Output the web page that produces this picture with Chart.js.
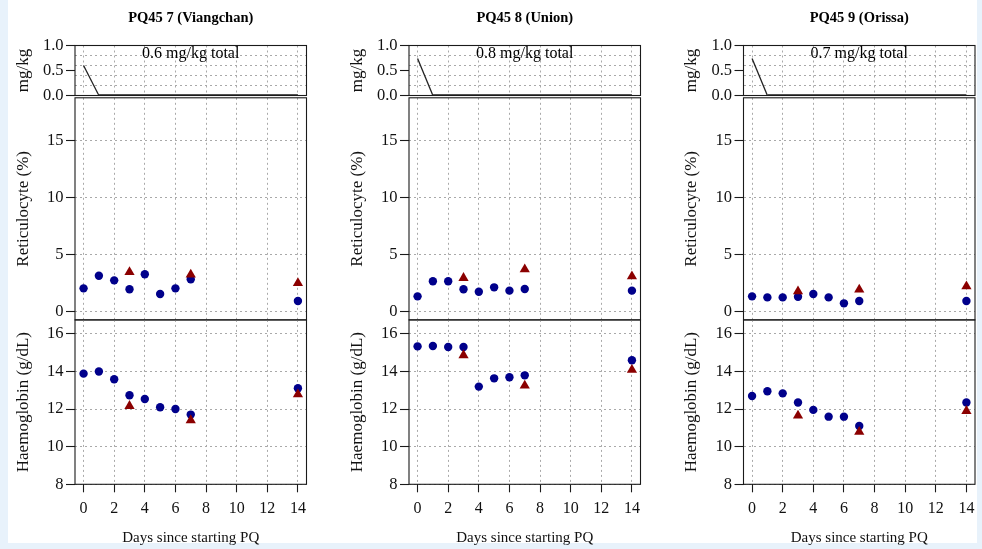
<!DOCTYPE html>
<html>
<head>
<meta charset="utf-8">
<script src="https://cdn.jsdelivr.net/npm/chart.js@4.4.1/dist/chart.umd.min.js"></script>
<style>
html, body { margin: 0; padding: 0; background: #e8f2fb; }
#page { position: relative; width: 982px; height: 549px; overflow: hidden; }
#sheet { position: absolute; left: 8px; top: 0; width: 969px; height: 543px; background: #fff; }
canvas { position: absolute; left: 0; top: 0; }
.lbl { position: absolute; font-family: "Liberation Serif", "Times New Roman", serif; color: #000;
       white-space: nowrap; transform: translate(-50%, -50%); line-height: 1; }
.ttl { font-weight: bold; font-size: 14.5px; }
.note { font-size: 16px; }
</style>
</head>
<body>
<div id="page"><div id="sheet"></div></div>
<script>
// days of measurement
const days = [0, 1, 2, 3, 4, 5, 6, 7, 14];
const triDays = [3, 7, 14];
const doseDays = [0, 1, 2, 3, 4, 5, 6, 7, 8, 9, 10, 11, 12, 13, 14];

// tick positions
const dayTicks = [0, 2, 4, 6, 8, 10, 12, 14];
const doseTicks = [0, 0.2, 0.4, 0.5, 0.6, 0.8, 1.0];
const doseLabelTicks = [0, 0.5, 1.0];
const reticTicks = [0, 5, 10, 15];
const hbTicks = [8, 10, 12, 14, 16];

const titles = ['PQ45 7 (Viangchan)', 'PQ45 8 (Union)', 'PQ45 9 (Orissa)'];
const doseNotes = ['0.6 mg/kg total', '0.8 mg/kg total', '0.7 mg/kg total'];

// mg/kg per day
const dose7 = [0.6, 0, 0, 0, 0, 0, 0, 0, 0, 0, 0, 0, 0, 0, 0];
const dose8 = [0.74, 0, 0, 0, 0, 0, 0, 0, 0, 0, 0, 0, 0, 0, 0];
const dose9 = [0.74, 0, 0, 0, 0, 0, 0, 0, 0, 0, 0, 0, 0, 0, 0];

// reticulocyte (%), circles and triangles
const retic7 = [2.04, 3.15, 2.74, 1.96, 3.27, 1.55, 2.04, 2.83, 0.93];
const retic7Tri = [3.47, 3.24, 2.5];
const retic8 = [1.34, 2.66, 2.66, 1.96, 1.75, 2.13, 1.84, 1.98, 1.84];
const retic8Tri = [2.95, 3.7, 3.09];
const retic9 = [1.34, 1.25, 1.25, 1.31, 1.55, 1.25, 0.73, 0.93, 0.93];
const retic9Tri = [1.78, 1.93, 2.22];

// haemoglobin (g/dL), circles and triangles
const hb7 = [13.89, 14.0, 13.59, 12.74, 12.54, 12.1, 12.01, 11.71, 13.11];
const hb7Tri = [12.17, 11.41, 12.79];
const hb8 = [15.34, 15.36, 15.31, 15.31, 13.2, 13.64, 13.7, 13.8, 14.6];
const hb8Tri = [14.87, 13.25, 14.09];
const hb9 = [12.7, 12.95, 12.84, 12.35, 11.96, 11.6, 11.6, 11.1, 12.35];
const hb9Tri = [11.66, 10.79, 11.9];

const W = 982, H = 549;
const AXW = 70;
const serif = '"Liberation Serif", "Times New Roman", serif';
const gridCol = '#a9a9a9';
const ink = '#1a1a1a';
const blue = '#00008b';
const red = '#8b0000';
const clear = 'rgba(0,0,0,0)';

const cols = [{ L: 75, R: 306.5 }, { L: 409, R: 640.5 }, { L: 743.5, R: 975 }];
const rows = {
  dose: { T: 45.5, B: 95.5 },
  retic: { T: 97.8, B: 319.9 },
  hb: { T: 319.9, B: 484.3 }
};

const page = document.getElementById('page');

const boxPlugin = {
  id: 'box',
  afterDraw(chart) {
    const a = chart.chartArea, ctx = chart.ctx;
    ctx.save();
    ctx.strokeStyle = ink;
    ctx.lineWidth = 1.1;
    ctx.strokeRect(a.left, a.top, a.right - a.left, a.bottom - a.top);
    ctx.restore();
  }
};

const pts = (xs, ys) => xs.map((x, i) => ({ x: x, y: ys[i] }));

function panel(col, row, yCfg, datasets, withX) {
  const cv = document.createElement('canvas');
  cv.width = W; cv.height = H;
  page.appendChild(cv);
  const xH = withX ? 64 : 0;
  new Chart(cv, {
    type: 'scatter',
    data: { datasets: datasets },
    options: {
      responsive: false,
      animation: false,
      devicePixelRatio: 1,
      events: [],
      layout: { padding: { left: col.L - AXW, right: W - col.R, top: row.T, bottom: H - row.B - xH } },
      plugins: { legend: { display: false }, tooltip: { enabled: false } },
      scales: {
        x: {
          type: 'linear', min: -0.56, max: 14.56,
          afterBuildTicks: s => { s.ticks = dayTicks.map(v => ({ value: v })); },
          afterFit: s => { s.height = xH; },
          grid: { color: gridCol, lineWidth: 1, drawTicks: withX, tickLength: 8, tickColor: ink, tickWidth: 1.1, tickBorderDash: [] },
          border: { display: false, dash: [2, 3] },
          ticks: { display: withX, padding: 7, color: '#111', maxRotation: 0, autoSkip: false,
                   font: { family: serif, size: 16 }, callback: v => String(v) },
          title: { display: withX, text: 'Days since starting PQ', color: '#111',
                   font: { family: serif, size: 15 }, padding: { top: 0, bottom: 1.5 } }
        },
        y: {
          type: 'linear', min: yCfg.min, max: yCfg.max,
          afterBuildTicks: s => { s.ticks = yCfg.ticks.map(v => ({ value: v })); },
          afterFit: s => { s.width = AXW; },
          grid: {
            color: yCfg.gridColor || gridCol, lineWidth: 1, drawTicks: true, tickLength: 9,
            tickColor: yCfg.tickColor || ink, tickWidth: 1.1, tickBorderDash: []
          },
          border: { display: false, dash: [2, 3] },
          ticks: { padding: 2.5, color: '#111', autoSkip: false,
                   font: { family: serif, size: 16.5 }, callback: yCfg.label || (v => String(v)) },
          title: { display: true, text: yCfg.title, color: '#111',
                   font: { family: serif, size: 17 }, padding: { top: 8, bottom: 0 } }
        }
      }
    },
    plugins: [boxPlugin]
  });
}

function label(cls, text, x, y) {
  const d = document.createElement('div');
  d.className = 'lbl ' + cls;
  d.textContent = text;
  d.style.left = x + 'px';
  d.style.top = y + 'px';
  page.appendChild(d);
}

const doseCfg = {
  min: 0, max: 1, ticks: doseTicks, title: 'mg/kg',
  label: v => doseLabelTicks.includes(v) ? v.toFixed(1) : '',
  gridColor: c => (c.tick && c.tick.value === 0.5) ? clear : gridCol,
  tickColor: c => (c.tick && doseLabelTicks.includes(c.tick.value)) ? ink : clear
};
const reticCfg = { min: -0.72, max: 18.72, ticks: reticTicks, title: 'Reticulocyte (%)' };
const hbCfg = { min: 8, max: 16.75, ticks: hbTicks, title: 'Haemoglobin (g/dL)' };

const series = [
  { dose: dose7, retic: retic7, reticTri: retic7Tri, hb: hb7, hbTri: hb7Tri },
  { dose: dose8, retic: retic8, reticTri: retic8Tri, hb: hb8, hbTri: hb8Tri },
  { dose: dose9, retic: retic9, reticTri: retic9Tri, hb: hb9, hbTri: hb9Tri }
];

function markers(circ, tri) {
  return [
    { data: pts(triDays, tri), pointStyle: 'triangle', pointRadius: 5.9, pointBorderWidth: 0,
      backgroundColor: red, borderColor: red },
    { data: pts(days, circ), pointStyle: 'circle', pointRadius: 4.2, pointBorderWidth: 0,
      backgroundColor: blue, borderColor: blue }
  ];
}

const flat = c => c.p0.parsed.y === 0 && c.p1.parsed.y === 0;

series.forEach((s, i) => {
  const col = cols[i];
  panel(col, rows.dose, doseCfg, [{
    data: pts(doseDays, s.dose), showLine: true, pointRadius: 0,
    borderColor: '#222', borderWidth: 1.3, tension: 0,
    segment: {
      borderWidth: c => flat(c) ? 3 : 1.3,
      borderColor: c => flat(c) ? '#555' : '#222'
    }
  }], false);
  panel(col, rows.retic, reticCfg, markers(s.retic, s.reticTri), false);
  panel(col, rows.hb, hbCfg, markers(s.hb, s.hbTri), true);

  const cx = (col.L + col.R) / 2;
  label('ttl', titles[i], cx, 16.7);
  label('note', doseNotes[i], cx, 53.3);
});
</script>
</body>
</html>
